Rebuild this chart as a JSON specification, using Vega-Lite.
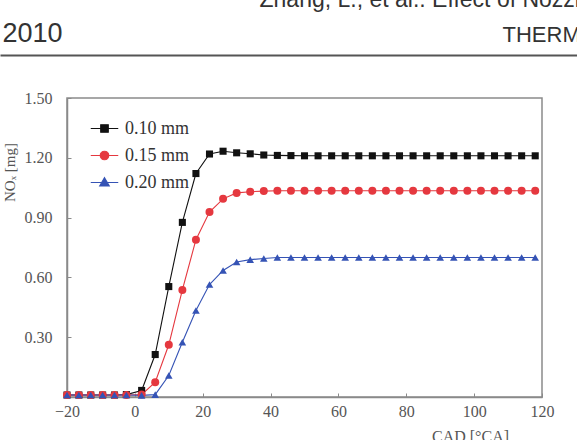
{
  "$schema": "https://vega.github.io/schema/vega-lite/v6.json",
  "width": 475,
  "height": 299,
  "autosize": "none",
  "padding": {"left": 67, "top": 98, "right": 35, "bottom": 43},
  "background": "white",
  "data": {"values": [
    {"s":"0.10 mm","x":-20,"y":0.01},{"s":"0.10 mm","x":-16.5,"y":0.01},{"s":"0.10 mm","x":-13,"y":0.01},{"s":"0.10 mm","x":-9.5,"y":0.01},{"s":"0.10 mm","x":-6,"y":0.01},{"s":"0.10 mm","x":-2.5,"y":0.012},
    {"s":"0.10 mm","x":2,"y":0.033},{"s":"0.10 mm","x":6,"y":0.213},{"s":"0.10 mm","x":10,"y":0.554},{"s":"0.10 mm","x":14,"y":0.876},{"s":"0.10 mm","x":18,"y":1.121},{"s":"0.10 mm","x":22,"y":1.219},{"s":"0.10 mm","x":26,"y":1.233},{"s":"0.10 mm","x":30,"y":1.225},{"s":"0.10 mm","x":34,"y":1.22},{"s":"0.10 mm","x":38,"y":1.214},
    {"s":"0.10 mm","x":42,"y":1.212},{"s":"0.10 mm","x":46,"y":1.211},{"s":"0.10 mm","x":50,"y":1.21},{"s":"0.10 mm","x":54,"y":1.21},{"s":"0.10 mm","x":58,"y":1.21},{"s":"0.10 mm","x":62,"y":1.21},{"s":"0.10 mm","x":66,"y":1.21},{"s":"0.10 mm","x":70,"y":1.21},{"s":"0.10 mm","x":74,"y":1.21},{"s":"0.10 mm","x":78,"y":1.21},{"s":"0.10 mm","x":82,"y":1.21},{"s":"0.10 mm","x":86,"y":1.21},{"s":"0.10 mm","x":90,"y":1.21},{"s":"0.10 mm","x":94,"y":1.21},{"s":"0.10 mm","x":98,"y":1.21},{"s":"0.10 mm","x":102,"y":1.21},{"s":"0.10 mm","x":106,"y":1.21},{"s":"0.10 mm","x":110,"y":1.21},{"s":"0.10 mm","x":114,"y":1.21},{"s":"0.10 mm","x":118,"y":1.21},
    {"s":"0.15 mm","x":-20,"y":0.01},{"s":"0.15 mm","x":-16.5,"y":0.01},{"s":"0.15 mm","x":-13,"y":0.01},{"s":"0.15 mm","x":-9.5,"y":0.01},{"s":"0.15 mm","x":-6,"y":0.01},{"s":"0.15 mm","x":-2.5,"y":0.01},
    {"s":"0.15 mm","x":2,"y":0.012},{"s":"0.15 mm","x":6,"y":0.074},{"s":"0.15 mm","x":10,"y":0.262},{"s":"0.15 mm","x":14,"y":0.537},{"s":"0.15 mm","x":18,"y":0.789},{"s":"0.15 mm","x":22,"y":0.928},{"s":"0.15 mm","x":26,"y":0.994},{"s":"0.15 mm","x":30,"y":1.024},{"s":"0.15 mm","x":34,"y":1.03},{"s":"0.15 mm","x":38,"y":1.033},
    {"s":"0.15 mm","x":42,"y":1.035},{"s":"0.15 mm","x":46,"y":1.035},{"s":"0.15 mm","x":50,"y":1.035},{"s":"0.15 mm","x":54,"y":1.035},{"s":"0.15 mm","x":58,"y":1.035},{"s":"0.15 mm","x":62,"y":1.035},{"s":"0.15 mm","x":66,"y":1.035},{"s":"0.15 mm","x":70,"y":1.035},{"s":"0.15 mm","x":74,"y":1.035},{"s":"0.15 mm","x":78,"y":1.035},{"s":"0.15 mm","x":82,"y":1.035},{"s":"0.15 mm","x":86,"y":1.035},{"s":"0.15 mm","x":90,"y":1.035},{"s":"0.15 mm","x":94,"y":1.035},{"s":"0.15 mm","x":98,"y":1.035},{"s":"0.15 mm","x":102,"y":1.035},{"s":"0.15 mm","x":106,"y":1.035},{"s":"0.15 mm","x":110,"y":1.035},{"s":"0.15 mm","x":114,"y":1.035},{"s":"0.15 mm","x":118,"y":1.035},
    {"s":"0.20 mm","x":-20,"y":0.01},{"s":"0.20 mm","x":-16.5,"y":0.01},{"s":"0.20 mm","x":-13,"y":0.01},{"s":"0.20 mm","x":-9.5,"y":0.01},{"s":"0.20 mm","x":-6,"y":0.01},{"s":"0.20 mm","x":-2.5,"y":0.01},
    {"s":"0.20 mm","x":2,"y":0.008},{"s":"0.20 mm","x":6,"y":0.012},{"s":"0.20 mm","x":10,"y":0.108},{"s":"0.20 mm","x":14,"y":0.275},{"s":"0.20 mm","x":18,"y":0.434},{"s":"0.20 mm","x":22,"y":0.564},{"s":"0.20 mm","x":26,"y":0.635},{"s":"0.20 mm","x":30,"y":0.677},{"s":"0.20 mm","x":34,"y":0.689},{"s":"0.20 mm","x":38,"y":0.695},
    {"s":"0.20 mm","x":42,"y":0.7},{"s":"0.20 mm","x":46,"y":0.7},{"s":"0.20 mm","x":50,"y":0.7},{"s":"0.20 mm","x":54,"y":0.7},{"s":"0.20 mm","x":58,"y":0.7},{"s":"0.20 mm","x":62,"y":0.7},{"s":"0.20 mm","x":66,"y":0.7},{"s":"0.20 mm","x":70,"y":0.7},{"s":"0.20 mm","x":74,"y":0.7},{"s":"0.20 mm","x":78,"y":0.7},{"s":"0.20 mm","x":82,"y":0.7},{"s":"0.20 mm","x":86,"y":0.7},{"s":"0.20 mm","x":90,"y":0.7},{"s":"0.20 mm","x":94,"y":0.7},{"s":"0.20 mm","x":98,"y":0.7},{"s":"0.20 mm","x":102,"y":0.7},{"s":"0.20 mm","x":106,"y":0.7},{"s":"0.20 mm","x":110,"y":0.7},{"s":"0.20 mm","x":114,"y":0.7},{"s":"0.20 mm","x":118,"y":0.7}
  ]},
  "config": {
    "view": {"stroke": "#8a8a8a", "strokeWidth": 1.5},
    "axis": {"labelFont": "Liberation Serif", "titleFont": "Liberation Serif", "labelColor": "#555", "titleColor": "#555", "domainColor": "#8a8a8a", "domainWidth": 1.5, "tickColor": "#8a8a8a", "grid": false, "titleFontWeight": "normal"}
  },
  "layer": [
    {
      "encoding": {
        "x": {"field": "x", "type": "quantitative",
          "scale": {"domain": [-20, 120], "nice": false, "zero": false},
          "axis": {"values": [-20, 0, 20, 40, 60, 80, 100, 120], "labelFlush": false, "title": "CAD [°CA]", "titleX": 403, "titleY": 39, "titleAlign": "center", "titleBaseline": "middle", "titleFontSize": 16, "labelFontSize": 16, "tickSize": -4, "labelPadding": 10}},
        "y": {"field": "y", "type": "quantitative",
          "scale": {"domain": [0, 1.5], "nice": false},
          "axis": {"values": [0.3, 0.6, 0.9, 1.2, 1.5], "format": ".2f", "labelFlush": false, "title": "NOₓ [mg]", "titleX": -58, "titleY": 74, "titleAngle": -90, "titleAlign": "center", "titleBaseline": "middle", "titleFontSize": 15, "labelFontSize": 16, "tickSize": -4, "labelPadding": 19}}
      },
      "layer": [
        {"transform": [{"filter": "datum.s == '0.10 mm'"}], "mark": {"type": "line", "strokeWidth": 1.1, "color": "#111111"}},
        {"transform": [{"filter": "datum.s == '0.15 mm'"}], "mark": {"type": "line", "strokeWidth": 1.1, "color": "#e5383f"}},
        {"transform": [{"filter": "datum.s == '0.20 mm'"}], "mark": {"type": "line", "strokeWidth": 1.1, "color": "#3553b5"}},
        {"transform": [{"filter": "datum.s == '0.10 mm'"}],
         "mark": {"type": "point", "shape": "square", "filled": true, "opacity": 1, "size": 50, "color": "#111111"}},
        {"transform": [{"filter": "datum.s == '0.15 mm'"}],
         "mark": {"type": "point", "shape": "circle", "filled": true, "opacity": 1, "size": 64, "color": "#e5383f"}},
        {"transform": [{"filter": "datum.s == '0.20 mm'"}],
         "mark": {"type": "point", "shape": "triangle-up", "filled": true, "opacity": 1, "size": 58, "color": "#3553b5"}},
        {"mark": {"type": "point", "filled": true, "opacity": 0},
         "encoding": {
           "fill": {"field": "s", "type": "nominal", "scale": {"domain": ["0.10 mm", "0.15 mm", "0.20 mm"], "range": ["#111111", "#e5383f", "#3553b5"]},
             "legend": {"orient": "none", "legendX": 24, "legendY": 17, "title": null, "symbolSize": 625, "symbolStrokeWidth": 1.2, "symbolOpacity": 1, "symbolFillColor": "#000000", "labelFont": "Liberation Serif", "labelFontSize": 18, "labelColor": "#333", "labelOffset": 7, "rowPadding": 4, "padding": 0}},
           "stroke": {"field": "s", "type": "nominal", "scale": {"domain": ["0.10 mm", "0.15 mm", "0.20 mm"], "range": ["#111111", "#e5383f", "#3553b5"]},
             "legend": {"orient": "none", "legendX": 24, "legendY": 17, "title": null, "symbolSize": 625, "symbolStrokeWidth": 1.2, "symbolOpacity": 1, "symbolFillColor": "#000000", "labelFont": "Liberation Serif", "labelFontSize": 18, "labelColor": "#333", "labelOffset": 7, "rowPadding": 4, "padding": 0}},
           "shape": {"field": "s", "type": "nominal", "scale": {"domain": ["0.10 mm", "0.15 mm", "0.20 mm"], "range": ["M-1.1,0H1.1M-0.3,-0.3H0.3V0.3H-0.3Z", "M-1.1,0H1.1M-0.34,0A0.34,0.34,0,1,0,0.34,0A0.34,0.34,0,1,0,-0.34,0Z", "M-1.1,0H1.1M0,-0.38L0.38,0.28H-0.38Z"]},
             "legend": {"orient": "none", "legendX": 24, "legendY": 17, "title": null, "symbolSize": 625, "symbolStrokeWidth": 1.2, "symbolOpacity": 1, "symbolFillColor": "#000000", "labelFont": "Liberation Serif", "labelFontSize": 18, "labelColor": "#333", "labelOffset": 7, "rowPadding": 4, "padding": 0}}
         }}
      ]
    },
    {
      "mark": {"type": "point", "opacity": 0},
      "encoding": {
        "x": {"field": "x", "type": "quantitative", "scale": {"range": [-67, 510]},
          "axis": {"orient": "top", "offset": 43, "domain": true, "domainColor": "#555", "domainWidth": 2, "ticks": false, "labels": false, "grid": false,
            "title": "THERMAL SCIENCE, Year 2010, Vol. 14, Suppl., pp. S1-S10", "titleFont": "Liberation Sans", "titleFontSize": 22, "titleColor": "#333", "titleX": 435, "titleY": -14, "titleAlign": "left", "titleBaseline": "alphabetic", "titleAngle": 0}},
        "y": {"field": "y", "type": "quantitative",
          "axis": {"orient": "right", "domain": false, "ticks": false, "labels": false, "grid": false,
            "title": "Zhang, L., et al.: Effect of Nozzle Orifice Geometry on ...", "titleFont": "Liberation Sans", "titleFontSize": 23, "titleColor": "#333", "titleX": -283, "titleY": -92, "titleAlign": "left", "titleBaseline": "alphabetic", "titleAngle": 0}}
      }
    },
    {
      "mark": {"type": "point", "opacity": 0},
      "encoding": {
        "x": {"field": "x", "type": "quantitative", "axis": null},
        "y": {"field": "y", "type": "quantitative",
          "axis": {"orient": "left", "domain": false, "ticks": false, "labels": false, "grid": false,
            "title": "2010", "titleFont": "Liberation Sans", "titleFontSize": 27, "titleColor": "#333", "titleX": -65, "titleY": -57, "titleAlign": "left", "titleBaseline": "alphabetic", "titleAngle": 0}}
      }
    }
  ],
  "resolve": {"scale": {"x": "independent", "y": "independent"}}
}
